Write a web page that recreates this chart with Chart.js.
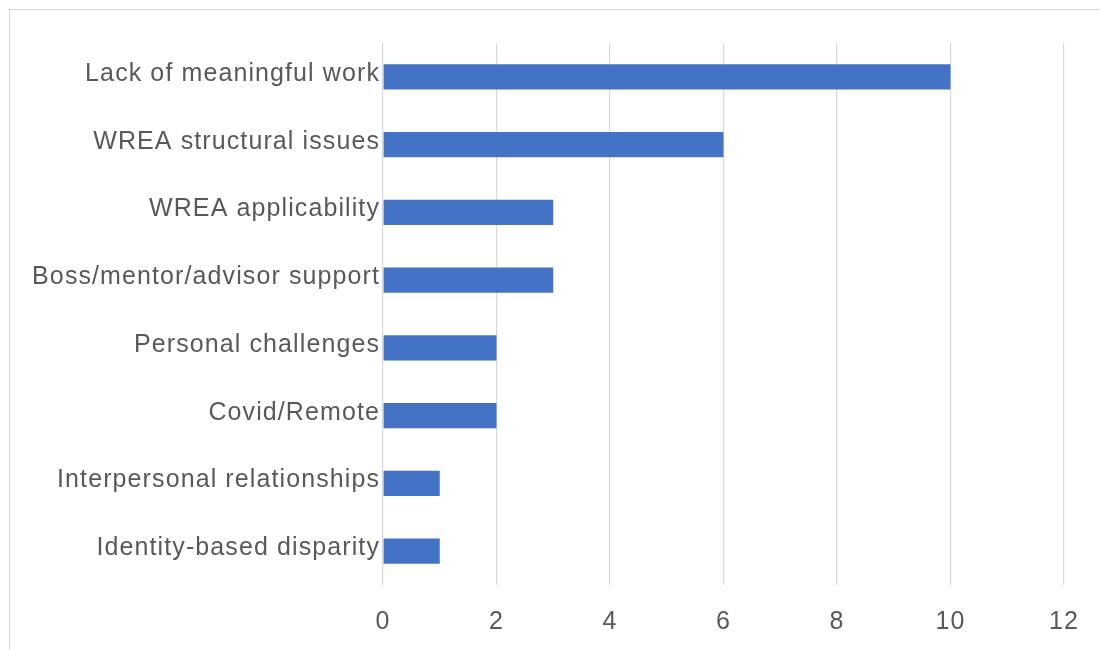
<!DOCTYPE html>
<html>
<head>
<meta charset="utf-8">
<script src="https://cdn.jsdelivr.net/npm/chart.js@4"></script>
<style>
  html, body { margin: 0; padding: 0; background: #fff; }
  #wrap { position: relative; width: 1100px; height: 650px; overflow: hidden; }
  #frame {
    position: absolute; left: 9px; top: 9px; width: 1200px; height: 700px;
    border-left: 1.5px solid #d6d6d6; border-top: 1.5px solid #d6d6d6;
  }
  canvas { position: absolute; left: 0; top: 0; }
</style>
</head>
<body>
<div id="wrap">
  <div id="frame"></div>
  <canvas id="chart" width="1100" height="650"></canvas>
</div>
<script>
// categories, top to bottom
const categories = [
  "Lack of meaningful work",
  "WREA structural issues",
  "WREA applicability",
  "Boss/mentor/advisor support",
  "Personal challenges",
  "Covid/Remote",
  "Interpersonal relationships",
  "Identity-based disparity"
];

// counts
const counts = [10, 6, 3, 3, 2, 2, 1, 1];

// x axis ticks
const xMin = 0;
const xMax = 12;
const xStep = 2;

const textColor = "#595959";
const fontFamily = "'Liberation Sans', Arial, Helvetica, sans-serif";

// the original text is a bit wider than Liberation Sans, spread it a little
const spacingPlugin = {
  id: "spacing",
  beforeDraw(chart) {
    chart.ctx.letterSpacing = "1.1px";
  },
};

const ctx = document.getElementById("chart");

new Chart(ctx, {
  type: "bar",
  data: {
    labels: categories,
    datasets: [
      {
        data: counts,
        backgroundColor: "#4472c4",
        barPercentage: 0.37,
        categoryPercentage: 1.0,
      },
    ],
  },
  plugins: [spacingPlugin],
  options: {
    indexAxis: "y",
    responsive: false,
    animation: false,
    layout: {
      padding: { top: 43, right: 36, bottom: 0, left: 0 },
    },
    plugins: {
      legend: { display: false },
      tooltip: { enabled: false },
    },
    scales: {
      x: {
        min: xMin,
        max: xMax,
        afterFit: (scale) => {
          scale.height = 65;
        },
        ticks: {
          stepSize: xStep,
          color: textColor,
          padding: 22,
          font: { family: fontFamily, size: 25 },
        },
        grid: {
          color: "#d9d9d9",
          lineWidth: 1.2,
          drawTicks: false,
        },
        border: { display: false },
      },
      y: {
        afterFit: (scale) => {
          scale.width = 383;
        },
        ticks: {
          color: textColor,
          padding: 3,
          labelOffset: -3,
          font: { family: fontFamily, size: 25 },
        },
        grid: { display: false, drawTicks: false },
        border: { display: false },
      },
    },
  },
});
</script>
</body>
</html>
